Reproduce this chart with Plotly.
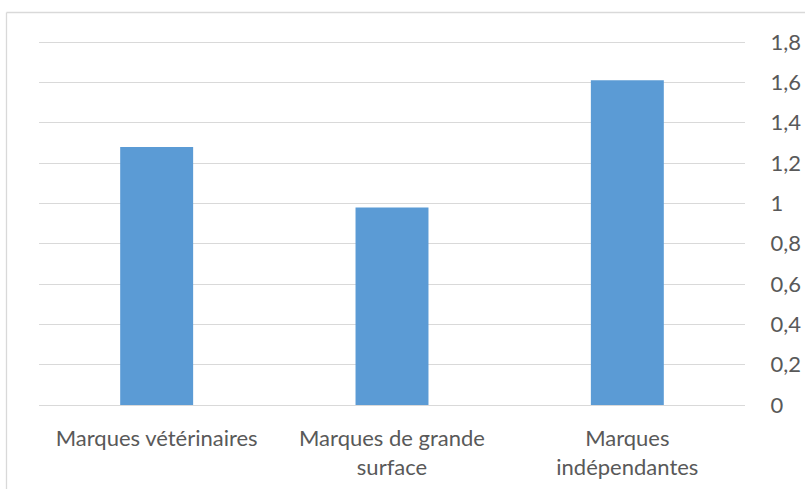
import plotly.graph_objects as go

categories = ["Marques vétérinaires", "Marques de grande<br>surface", "Marques<br>indépendantes"]
values = [1.28, 0.98, 1.61]
tick_vals = [0, 0.2, 0.4, 0.6, 0.8, 1.0, 1.2, 1.4, 1.6, 1.8]
tick_text = ["0", "0,2", "0,4", "0,6", "0,8", "1", "1,2", "1,4", "1,6", "1,8"]

W, H = 805, 489
ml, mr, mt, mb = 39, 60, 38, 84
pw, ph = W - ml - mr, H - mt - mb

def px(x):
    return (x - ml) / pw

def py(y):
    return (H - mb - y) / ph

fig = go.Figure(go.Bar(
    x=categories, y=values, marker=dict(color="#5b9bd5", line=dict(width=0)),
    width=0.31,
))

fig.update_layout(
    width=W, height=H,
    margin=dict(l=ml, r=mr, t=mt, b=mb, pad=0, autoexpand=False),
    paper_bgcolor="white", plot_bgcolor="white",
    font=dict(family="Lato, Carlito, sans-serif", size=22, color="#595959"),
    showlegend=False,
    xaxis=dict(showgrid=False, showline=False, zeroline=False, automargin=False,
               ticks="outside", ticklen=14, tickcolor="rgba(0,0,0,0)",
               tickfont=dict(size=22, color="#595959")),
    yaxis=dict(side="right", range=[0, 1.82], tickvals=tick_vals, ticktext=tick_text,
               automargin=False,
               showgrid=True, gridcolor="#d9d9d9", gridwidth=1.3,
               zeroline=True, zerolinecolor="#d9d9d9", zerolinewidth=1.3,
               showline=False, ticks="outside", ticklen=20, tickcolor="rgba(0,0,0,0)",
               tickfont=dict(size=22, color="#595959")),
    shapes=[
        dict(type="line", xref="paper", yref="paper", x0=px(6.5), x1=px(6.5),
             y0=py(H + 5), y1=py(12.5), line=dict(color="#d9d9d9", width=1.3)),
        dict(type="line", xref="paper", yref="paper", x0=px(6.5), x1=px(W + 5),
             y0=py(12.5), y1=py(12.5), line=dict(color="#d9d9d9", width=1.3)),
    ],
)

fig.write_html("out.html", config={"displayModeBar": False},
               post_script="document.body.style.margin='0';document.body.style.overflow='hidden';")
